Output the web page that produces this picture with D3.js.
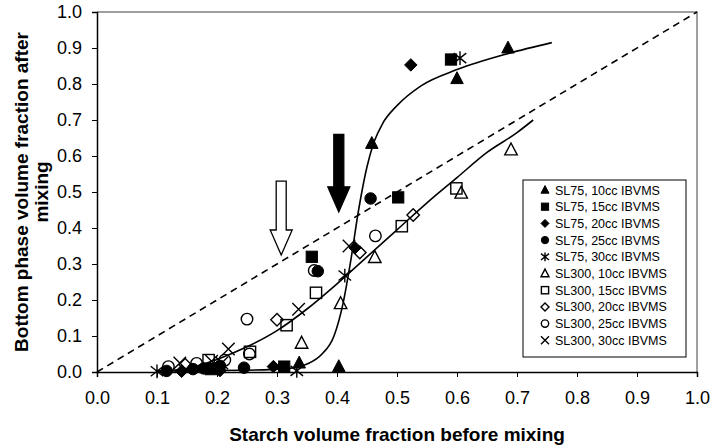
<!DOCTYPE html>
<html>
<head>
<meta charset="utf-8">
<script src="https://cdn.jsdelivr.net/npm/d3@7"></script>
<style>
  body { margin: 0; background: #fff; }
  svg { font-family: "Liberation Sans", Arial, sans-serif; }
</style>
</head>
<body>
<div id="chart"></div>
<script>
// data (x = starch fraction before, y = bottom phase fraction after)
const xTickValues = [0, 0.1, 0.2, 0.3, 0.4, 0.5, 0.6, 0.7, 0.8, 0.9, 1.0];
const yTickValues = [0, 0.1, 0.2, 0.3, 0.4, 0.5, 0.6, 0.7, 0.8, 0.9, 1.0];

const seriesLabels = [
  "SL75, 10cc IBVMS", "SL75, 15cc IBVMS", "SL75, 20cc IBVMS", "SL75, 25cc IBVMS", "SL75, 30cc IBVMS",
  "SL300, 10cc IBVMS", "SL300, 15cc IBVMS", "SL300, 20cc IBVMS", "SL300, 25cc IBVMS", "SL300, 30cc IBVMS"
];
const seriesMarkers = ["triFill", "sqFill", "diaFill", "circFill", "star",
                       "triOpen", "sqOpen", "diaOpen", "circOpen", "cross"];

const sl75_10 = [[0.337, 0.025], [0.403, 0.015], [0.458, 0.635], [0.600, 0.815], [0.685, 0.900]];
const sl75_15 = [[0.190, 0.008], [0.312, 0.015], [0.358, 0.320], [0.502, 0.485], [0.590, 0.868]];
const sl75_20 = [[0.141, 0.002], [0.205, 0.004], [0.294, 0.015], [0.430, 0.345], [0.523, 0.853]];
const sl75_25 = [[0.116, 0.003], [0.160, 0.008], [0.178, 0.010], [0.205, 0.017], [0.245, 0.012],
                 [0.368, 0.280], [0.456, 0.482]];
const sl75_30 = [[0.100, 0.002], [0.333, 0.003], [0.413, 0.268], [0.605, 0.872]];
const sl300_10 = [[0.341, 0.080], [0.406, 0.190], [0.463, 0.318], [0.607, 0.497], [0.690, 0.617]];
const sl300_15 = [[0.186, 0.033], [0.255, 0.056], [0.316, 0.130], [0.365, 0.220], [0.508, 0.405], [0.599, 0.510]];
const sl300_20 = [[0.147, 0.020], [0.300, 0.145], [0.438, 0.332], [0.527, 0.436]];
const sl300_25 = [[0.119, 0.015], [0.166, 0.024], [0.213, 0.033], [0.250, 0.147], [0.254, 0.050],
                  [0.362, 0.282], [0.464, 0.378]];
const sl300_30 = [[0.138, 0.025], [0.191, 0.030], [0.208, 0.025], [0.219, 0.064], [0.336, 0.174], [0.420, 0.350]];
const allSeries = [sl75_10, sl75_15, sl75_20, sl75_25, sl75_30, sl300_10, sl300_15, sl300_20, sl300_25, sl300_30];

// hand drawn trend curves
const sl75Curve = [[0.10, 0.003], [0.25, 0.005], [0.32, 0.01], [0.35, 0.022], [0.375, 0.05], [0.395, 0.10],
                   [0.41, 0.19], [0.423, 0.31], [0.436, 0.45], [0.45, 0.57], [0.462, 0.64], [0.476, 0.69],
                   [0.50, 0.74], [0.54, 0.795], [0.60, 0.84], [0.686, 0.885], [0.758, 0.915]];
const sl300Curve = [[0.10, 0.0], [0.15, 0.01], [0.20, 0.035], [0.25, 0.07], [0.30, 0.115], [0.35, 0.175],
                    [0.40, 0.245], [0.45, 0.32], [0.50, 0.395], [0.55, 0.47], [0.60, 0.54], [0.65, 0.61],
                    [0.70, 0.665], [0.727, 0.70]];

// arrows: x, top y, tip y
const filledArrow = [0.403, 0.66, 0.445];
const openArrow = [0.307, 0.53, 0.325];

const WIDTH = 713;
const HEIGHT = 448;
const margin = { top: 12, right: 16, bottom: 76, left: 97 };
const w = WIDTH - margin.left - margin.right;
const h = HEIGHT - margin.top - margin.bottom;

const svg = d3.select("#chart").append("svg")
  .attr("width", WIDTH)
  .attr("height", HEIGHT);

const g = svg.append("g").attr("transform", `translate(${margin.left},${margin.top})`);

const x = d3.scaleLinear().domain([0, 1]).range([0, w]);
const y = d3.scaleLinear().domain([0, 1]).range([h, 0]);

// frame (top + right grey)
g.append("path")
  .attr("d", `M0,0H${w}V${h}`)
  .attr("fill", "none")
  .attr("stroke", "#808080")
  .attr("stroke-width", 1.5);

// axes
const xAxis = g.append("g")
  .attr("transform", `translate(0,${h})`)
  .call(d3.axisBottom(x).tickValues(xTickValues).tickFormat(d3.format(".1f")).tickSizeOuter(0).tickSize(5).tickPadding(14));
const yAxis = g.append("g")
  .call(d3.axisLeft(y).tickValues(yTickValues).tickFormat(d3.format(".1f")).tickSizeOuter(0).tickSize(5).tickPadding(10));

[xAxis, yAxis].forEach(a => {
  a.select(".domain").attr("stroke", "#000").attr("stroke-width", 1.5);
  a.selectAll(".tick line").attr("stroke", "#000");
  a.selectAll(".tick text").attr("font-size", 18).attr("fill", "#000")
    .attr("font-family", "Liberation Sans, Arial, sans-serif");
});

// axis titles
svg.append("text")
  .attr("x", margin.left + w / 2)
  .attr("y", 441)
  .attr("text-anchor", "middle")
  .attr("font-weight", "bold")
  .attr("font-size", 19)
  .text("Starch volume fraction before mixing");

const yt = svg.append("text")
  .attr("transform", `translate(28,${margin.top + h / 2}) rotate(-90)`)
  .attr("text-anchor", "middle")
  .attr("font-weight", "bold")
  .attr("font-size", 19);
yt.append("tspan").attr("x", 0).attr("y", 0).text("Bottom phase volume fraction after");
yt.append("tspan").attr("x", 0).attr("y", 20).text("mixing");

// dashed 1:1 line
g.append("line")
  .attr("x1", x(0)).attr("y1", y(0))
  .attr("x2", x(1)).attr("y2", y(1))
  .attr("stroke", "#000")
  .attr("stroke-width", 1.6)
  .attr("stroke-dasharray", "7,5");

// trend curves
const line = d3.line().x(d => x(d[0])).y(d => y(d[1])).curve(d3.curveMonotoneX);
[sl75Curve, sl300Curve].forEach(c => {
  g.append("path")
    .attr("d", line(c))
    .attr("fill", "none")
    .attr("stroke", "#000")
    .attr("stroke-width", 1.6);
});

// markers
function drawMarker(sel, type, s) {
  const r = s / 2;
  if (type === "triFill" || type === "triOpen") {
    sel.append("path")
      .attr("d", `M0,${-r * 1.1}L${r},${r * 0.8}L${-r},${r * 0.8}Z`)
      .attr("fill", type === "triFill" ? "#000" : "none")
      .attr("stroke", "#000").attr("stroke-width", type === "triFill" ? 1 : 1.4);
  } else if (type === "sqFill" || type === "sqOpen") {
    sel.append("rect")
      .attr("x", -r * 0.9).attr("y", -r * 0.9).attr("width", r * 1.8).attr("height", r * 1.8)
      .attr("fill", type === "sqFill" ? "#000" : "none")
      .attr("stroke", "#000").attr("stroke-width", type === "sqFill" ? 1 : 1.4);
  } else if (type === "diaFill" || type === "diaOpen") {
    sel.append("path")
      .attr("d", `M0,${-r}L${r},0L0,${r}L${-r},0Z`)
      .attr("fill", type === "diaFill" ? "#000" : "none")
      .attr("stroke", "#000").attr("stroke-width", type === "diaFill" ? 1 : 1.4);
  } else if (type === "circFill" || type === "circOpen") {
    sel.append("circle")
      .attr("r", r * 0.92)
      .attr("fill", type === "circFill" ? "#000" : "none")
      .attr("stroke", "#000").attr("stroke-width", type === "circFill" ? 1 : 1.4);
  } else if (type === "cross") {
    sel.append("path")
      .attr("d", `M${-r},${-r}L${r},${r}M${-r},${r}L${r},${-r}`)
      .attr("stroke", "#000").attr("stroke-width", 1.4);
  } else if (type === "star") {
    sel.append("path")
      .attr("d", `M${-r},${-r * 0.8}L${r},${r * 0.8}M${-r},${r * 0.8}L${r},${-r * 0.8}M0,${-r * 1.1}V${r * 1.1}`)
      .attr("stroke", "#000").attr("stroke-width", 1.4);
  }
}

allSeries.forEach((pts, i) => {
  g.append("g").selectAll("g")
    .data(pts)
    .enter()
    .append("g")
    .attr("transform", d => `translate(${x(d[0])},${y(d[1])})`)
    .each(function () { drawMarker(d3.select(this), seriesMarkers[i], 12.5); });
});

// arrows
function arrow(a, filled) {
  const cx = x(a[0]), top = y(a[1]), tip = y(a[2]);
  const shaft = 5, head = 11, headLen = 25;
  g.append("path")
    .attr("d", `M${cx - shaft},${top}H${cx + shaft}V${tip - headLen}H${cx + head}L${cx},${tip}L${cx - head},${tip - headLen}H${cx - shaft}Z`)
    .attr("fill", filled ? "#000" : "#fff")
    .attr("stroke", "#000")
    .attr("stroke-width", 1.3);
}
arrow(filledArrow, true);
arrow(openArrow, false);

// legend
const lg = svg.append("g").attr("transform", "translate(523,180)");
lg.append("rect")
  .attr("width", 163).attr("height", 177)
  .attr("fill", "#fff")
  .attr("stroke", "#000")
  .attr("stroke-width", 1);
seriesLabels.forEach((lab, i) => {
  const row = lg.append("g").attr("transform", `translate(0,${10 + i * 16.7})`);
  const m = row.append("g").attr("transform", "translate(22,0)");
  drawMarker(m, seriesMarkers[i], 8);
  row.append("text")
    .attr("x", 32).attr("y", 4.5)
    .attr("font-size", 12.5)
    .text(lab);
});
</script>
</body>
</html>
